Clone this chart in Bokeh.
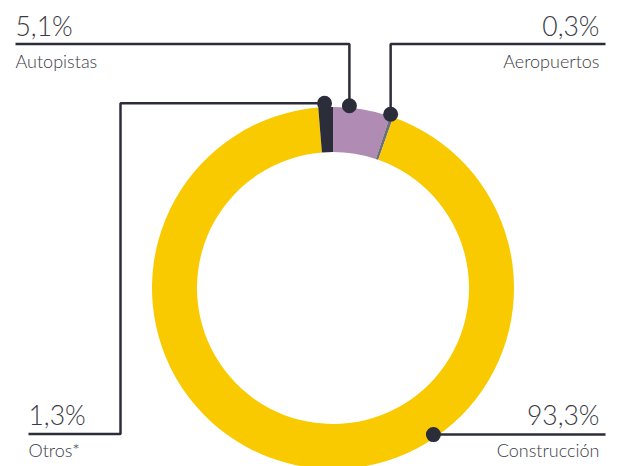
import numpy as np
from bokeh.plotting import figure
from bokeh.models import Range1d, ColumnDataSource
from bokeh.core.properties import value
from bokeh.embed import file_html
from bokeh.resources import INLINE

# ---- data (clockwise from 12 o'clock) ----
categories = ["Autopistas", "Aeropuertos", "Construcción", "Otros*"]
shares = [5.1, 0.3, 93.3, 1.3]
pct_labels = ["5,1%", "0,3%", "93,3%", "1,3%"]
colors = ["#B08BB4", "#6E7079", "#F9CA00", "#2C2D3A"]

# ---- layout ----
W, H = 619, 466
IMG_H = 466
cx, cy = 332.5, IMG_H - 287.5
r_out, r_in = 181, 136
dark = "#2C2D3A"
txt = "#3A3B45"
font = value("Lato Light")

p = figure(width=W, height=H, output_backend="svg", toolbar_location=None,
           x_range=Range1d(0, W), y_range=Range1d(0, H),
           min_border=0)
p.axis.visible = False
p.grid.visible = False
p.outline_line_color = None
p.background_fill_color = "white"

vals = np.array(shares, dtype=float)
frac = vals / vals.sum()
cum = np.concatenate([[0], np.cumsum(frac)])
start_deg = 90 - cum[:-1] * 360
end_deg = 90 - cum[1:] * 360

src = ColumnDataSource(dict(start=np.radians(start_deg), end=np.radians(end_deg), color=colors))
p.annular_wedge(x=cx, y=cy, inner_radius=r_in, outer_radius=r_out,
                start_angle="start", end_angle="end", direction="clock",
                fill_color="color", line_color=None, source=src)

# leader anchors: (fraction within slice, radius)
anchor = {"Autopistas": (0.28, 183), "Aeropuertos": (0.0, 183),
          "Construcción": (0.3756, 177.7), "Otros*": (0.44, 185)}

def dot_pos(i):
    f, r = anchor[categories[i]]
    a = (cum[i] + f * frac[i]) * 2 * np.pi  # clockwise from top
    return cx + r * np.sin(a), cy + r * np.cos(a)

top_y = IMG_H - 43.5
bot_y = IMG_H - 433.5
lw = 2.5
big, small = "26.5px", "18px"
off_big, off_small = 10, 8

dots_x, dots_y = [], []
for i, cat in enumerate(categories):
    dx, dy = dot_pos(i)
    dots_x.append(dx); dots_y.append(dy)
    if cat == "Autopistas":
        p.line([15, dx, dx], [top_y, top_y, dy], line_color=dark, line_width=lw)
        tx, ty, al = 15, (35, 68), "left"
    elif cat == "Aeropuertos":
        p.line([605, dx, dx], [top_y, top_y, dy], line_color=dark, line_width=lw)
        tx, ty, al = 599, (35, 68), "right"
    elif cat == "Construcción":
        p.line([dx, 605], [dy, dy], line_color=dark, line_width=lw)
        tx, ty, al = 599, (424, 457), "right"
    else:
        p.line([28, 120, 120, dx], [bot_y, bot_y, dy, dy], line_color=dark, line_width=lw)
        tx, ty, al = 28, (424, 457), "left"
    p.text([tx], [IMG_H - ty[0] + off_big], text=[pct_labels[i]], text_font=font, text_font_size=big,
           text_color=txt, text_align=al, text_baseline="alphabetic")
    p.text([tx], [IMG_H - ty[1] + off_small], text=[cat], text_font=font, text_font_size=small,
           text_color=txt, text_align=al, text_baseline="alphabetic")

p.scatter(dots_x, dots_y, size=15, fill_color=dark, line_color=None)

open("out.html", "w").write(file_html(p, INLINE))
